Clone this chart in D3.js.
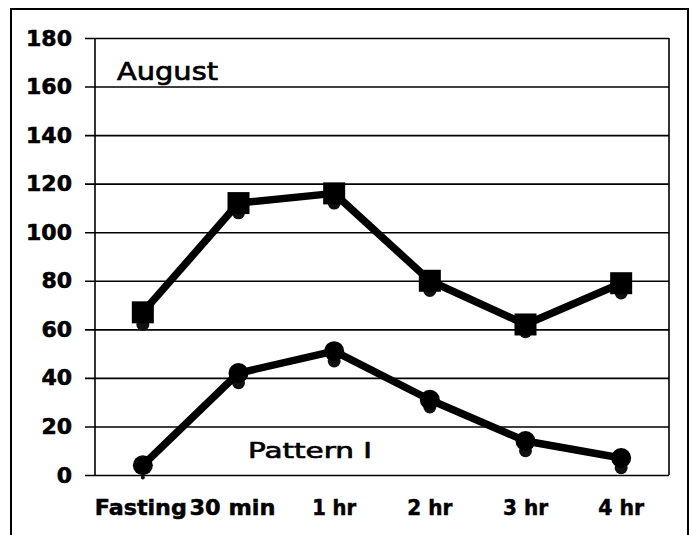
<!DOCTYPE html>
<html>
<head>
<meta charset="utf-8">
<script src="https://cdn.jsdelivr.net/npm/d3@7"></script>
<style>
  html, body { margin: 0; padding: 0; background: #fff; }
  svg { display: block; }
  text { font-family: "DejaVu Sans", Verdana, sans-serif; fill: #000; }
</style>
</head>
<body>
<script>
// Sampling times along the x axis
const categories = ["Fasting", "30 min", "1 hr", "2 hr", "3 hr", "4 hr"];
// Upper curve (square markers)
const squareSeries = [67, 112, 116, 80, 62, 79];
// Lower curve (circle markers)
const circleSeries = [4, 42, 51, 31, 14, 7];
// Faint companion points drawn just beneath each marker
const squareShadow = [62, 108, 112, 76, 59, 75];
const circleShadow = [-1, 38, 47, 28, 10, 3];
// Value axis ticks
const yTicks = [0, 20, 40, 60, 80, 100, 120, 140, 160, 180];
const seasonLabel = "August";
const patternLabel = "Pattern I";

const W = 692, H = 535;
const plot = { left: 95, right: 669, top: 38, bottom: 475 };

const svg = d3.select("body").append("svg")
  .attr("width", W).attr("height", H);

svg.append("rect").attr("width", W).attr("height", H).attr("fill", "#fff");

// Outer frame
svg.append("rect")
  .attr("x", 11).attr("y", 9)
  .attr("width", 677).attr("height", 540)
  .attr("fill", "none").attr("stroke", "#000").attr("stroke-width", 2);

const x = d3.scaleBand().domain(categories)
  .range([plot.left, plot.right]).padding(0);
const y = d3.scaleLinear().domain([0, 180])
  .range([plot.bottom, plot.top]);
const cx = d => x(d) + x.bandwidth() / 2;

// Horizontal gridlines with short outer ticks
const yAxis = d3.axisLeft(y).tickValues(yTicks)
  .tickSize(-(plot.right - plot.left)).tickSizeOuter(0).tickPadding(13)
  .tickFormat(d3.format("d"));
const gy = svg.append("g")
  .attr("transform", `translate(${plot.left},0)`)
  .call(yAxis);
gy.select(".domain").remove();
gy.selectAll(".tick line")
  .attr("x1", -10)
  .attr("stroke", "#000").attr("stroke-width", 1.6);
gy.selectAll(".tick text")
  .attr("font-size", 22).attr("font-weight", "bold")
  .attr("font-family", "DejaVu Sans, sans-serif")
  .attr("fill", "#000")
  .attr("stroke", "#000").attr("stroke-width", 0.6)
  .attr("x", 72 - plot.left);

// Left axis and right border of plot area
svg.append("line")
  .attr("x1", plot.left).attr("x2", plot.left)
  .attr("y1", y(180)).attr("y2", y(0))
  .attr("stroke", "#000").attr("stroke-width", 1.6);
svg.append("line")
  .attr("x1", plot.right).attr("x2", plot.right)
  .attr("y1", y(180)).attr("y2", y(0))
  .attr("stroke", "#000").attr("stroke-width", 1.6);

// Category labels
const xAxis = d3.axisBottom(x).tickSize(0).tickPadding(25);
const gx = svg.append("g")
  .attr("transform", `translate(0,${plot.bottom})`)
  .call(xAxis);
gx.select(".domain").remove();
const labelWidths = { "Fasting": 92, "30 min": 86, "1 hr": 44, "2 hr": 45, "3 hr": 45, "4 hr": 46 };
const labelNudge = { "Fasting": -2, "30 min": -6 };
gx.selectAll(".tick text")
  .attr("font-size", 21).attr("font-weight", "bold")
  .attr("font-family", "DejaVu Sans, sans-serif")
  .attr("fill", "#000")
  .attr("stroke", "#000").attr("stroke-width", 0.5)
  .attr("dx", d => labelNudge[d] || 0)
  .attr("textLength", d => labelWidths[d])
  .attr("lengthAdjust", "spacingAndGlyphs");

const lineGen = d3.line()
  .x((d, i) => cx(categories[i]))
  .y(d => y(d));

// Companion points (beneath the main markers)
function shadowDots(values) {
  svg.append("g").selectAll("circle")
    .data(values).join("circle")
    .attr("cx", (d, i) => cx(categories[i]))
    .attr("cy", d => y(d))
    .attr("r", d => d < 0 ? 2 : 6.5)
    .attr("fill", "#111");
}
shadowDots(squareShadow);
shadowDots(circleShadow);

// Upper series
svg.append("path").datum(squareSeries)
  .attr("d", lineGen)
  .attr("fill", "none").attr("stroke", "#000")
  .attr("stroke-width", 7.5).attr("stroke-linejoin", "round");
const sq = 22;
svg.append("g").selectAll("rect")
  .data(squareSeries).join("rect")
  .attr("x", (d, i) => cx(categories[i]) - sq / 2)
  .attr("y", d => y(d) - sq / 2)
  .attr("width", sq).attr("height", sq)
  .attr("fill", "#000");

// Lower series
svg.append("path").datum(circleSeries)
  .attr("d", lineGen)
  .attr("fill", "none").attr("stroke", "#000")
  .attr("stroke-width", 7.5).attr("stroke-linejoin", "round");
svg.append("g").selectAll("circle")
  .data(circleSeries).join("circle")
  .attr("cx", (d, i) => cx(categories[i]))
  .attr("cy", d => y(d))
  .attr("r", 10)
  .attr("fill", "#000");

// Annotations
svg.append("text")
  .attr("x", 117).attr("y", 80)
  .attr("font-size", 25)
  .attr("stroke", "#000").attr("stroke-width", 0.7)
  .attr("textLength", 101).attr("lengthAdjust", "spacingAndGlyphs")
  .text(seasonLabel);
svg.append("text")
  .attr("x", 248).attr("y", 458)
  .attr("font-size", 22)
  .attr("stroke", "#000").attr("stroke-width", 0.7)
  .attr("textLength", 124).attr("lengthAdjust", "spacingAndGlyphs")
  .text(patternLabel);
</script>
</body>
</html>
